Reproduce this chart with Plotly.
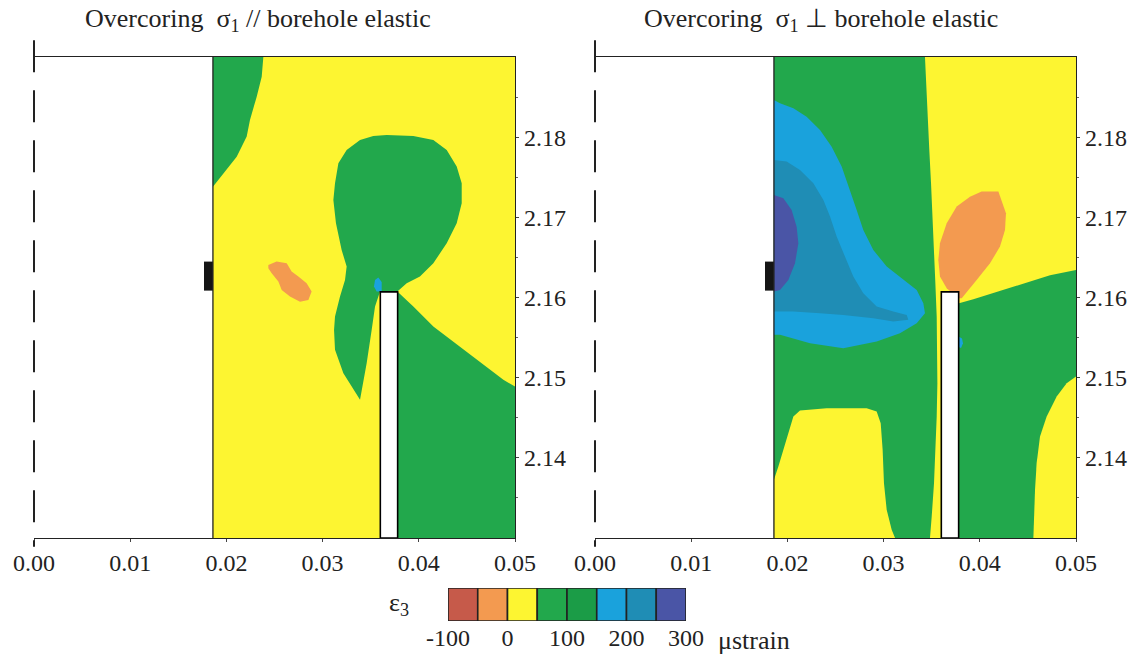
import plotly.graph_objects as go

# ---------------- data ----------------
band_edges = [-100, -50, 0, 50, 100, 150, 200, 250, 300]          # microstrain
band_colors = ['#c65a4a', '#f39a50', '#fdf531', '#22a84c', '#1b9c47',
               '#1aa2dc', '#1f8db5', '#4a55a6']
legend_ticks = [-100, 0, 100, 200, 300]
legend_ticktext = ['-100', '0', '100', '200', '300']

x_ticks = [0.00, 0.01, 0.02, 0.03, 0.04, 0.05]
y_ticks = [2.14, 2.15, 2.16, 2.17, 2.18]
y_minor = [2.135, 2.145, 2.155, 2.165, 2.175, 2.185]

borehole_r = 0.0186
x_max = 0.05
y_min, y_max = 2.13, 2.19
slot_x = [0.0360, 0.0378]
slot_top = 2.1607
gauge_x = [0.01767, borehole_r]
gauge_y = [2.16086, 2.16448]

# ---- left panel (sigma1 // borehole): background band = yellow (0..50)
L_base_band = 2
L_green_top_x = [borehole_r, 0.02384, 0.02367, 0.02315, 0.02245, 0.02211, 0.02107, 0.01968, borehole_r]
L_green_top_y = [2.19, 2.19, 2.18755, 2.18505, 2.18214, 2.18007, 2.17757, 2.1755, 2.17383]

L_green_blob_x = [0.03527, 0.03666, 0.03943, 0.04151, 0.04290, 0.04394, 0.04446, 0.04446, 0.04394, 0.04290,
                  0.04151, 0.04012, 0.03874, 0.03777, 0.03597, 0.03545, 0.03510, 0.03458, 0.03389, 0.03216,
                  0.03129, 0.03119, 0.03129, 0.03181, 0.03233, 0.03250, 0.03198, 0.03139, 0.03112, 0.03129,
                  0.03164, 0.03250, 0.03389]
L_green_blob_y = [2.18015, 2.18027, 2.18015, 2.17965, 2.17840, 2.17633, 2.17425, 2.17175, 2.16926, 2.16677,
                  2.16427, 2.16261, 2.16178, 2.16074, 2.16074, 2.15887, 2.15596, 2.15181, 2.14723, 2.15056,
                  2.15347, 2.15596, 2.15762, 2.16011, 2.16219, 2.16386, 2.16593, 2.16926, 2.17217, 2.17425,
                  2.17674, 2.17840, 2.17965]

L_green_low_x = [0.03777, 0.03943, 0.04151, 0.04359, 0.04567, 0.04740, 0.04879, 0.05, 0.05, 0.03777]
L_green_low_y = [2.16074, 2.15887, 2.15638, 2.15451, 2.15263, 2.15097, 2.14973, 2.14889, 2.13, 2.13]

L_orange_x = [0.02436, 0.02522, 0.02627, 0.02678, 0.02748, 0.02834, 0.02886, 0.02852, 0.02765, 0.02661,
              0.02575, 0.02540, 0.02471, 0.02436]
L_orange_y = [2.16406, 2.16448, 2.16427, 2.16323, 2.16261, 2.16178, 2.16074, 2.15970, 2.15948, 2.16011,
              2.16094, 2.16199, 2.16302, 2.16365]

L_blue_x = [0.03534, 0.03545, 0.03579, 0.03614, 0.03614, 0.03562]
L_blue_y = [2.16136, 2.16219, 2.16250, 2.16194, 2.16074, 2.16074]

# ---- right panel (sigma1 perpendicular to borehole): background band = green
R_base_band = 3
R_yellow_top_x = [0.03430, 0.03441, 0.03458, 0.03475, 0.03493, 0.03510, 0.03524, 0.03538, 0.03552, 0.03559,
                  0.03559, 0.03552, 0.03541, 0.03524, 0.03500, 0.03482, 0.03597, 0.03597, 0.03784, 0.03784,
                  0.03933, 0.04141, 0.04349, 0.04557, 0.04730, 0.04903, 0.05, 0.05]
R_yellow_top_y = [2.19, 2.18672, 2.18256, 2.17840, 2.17425, 2.17009, 2.16593, 2.16178, 2.15762, 2.15347,
                  2.14931, 2.14515, 2.14100, 2.13684, 2.13268, 2.13, 2.13, 2.16074, 2.16074, 2.15928,
                  2.15978, 2.16053, 2.16128, 2.16211, 2.16278, 2.16323, 2.16344, 2.19]

R_orange_x = [0.04019, 0.04193, 0.04272, 0.04262, 0.04210, 0.04106, 0.03967, 0.03864, 0.03812, 0.03777,
              0.03656, 0.03586, 0.03569, 0.03586, 0.03656, 0.03760, 0.03898]
R_orange_y = [2.17321, 2.17321, 2.17050, 2.16843, 2.16635, 2.16427, 2.16219, 2.16074, 2.15990, 2.15990,
              2.16116, 2.16261, 2.16469, 2.16677, 2.16926, 2.17134, 2.17258]

R_blue_x = [borehole_r, 0.01923, 0.02062, 0.02200, 0.02339, 0.02460, 0.02564, 0.02651, 0.02720, 0.02789,
            0.02893, 0.03032, 0.03205, 0.03344, 0.03413, 0.03430, 0.03344, 0.03170, 0.02928, 0.02581,
            0.02235, 0.01923, borehole_r]
R_blue_y = [2.18464, 2.18422, 2.18360, 2.18256, 2.18090, 2.17882, 2.17633, 2.17342, 2.17092, 2.16843,
            2.16593, 2.16386, 2.16219, 2.16094, 2.15928, 2.15804, 2.15679, 2.15555, 2.15451, 2.15367,
            2.15430, 2.15534, 2.15534]

R_teal_x = [borehole_r, 0.01992, 0.02131, 0.02270, 0.02374, 0.02443, 0.02512, 0.02599, 0.02685, 0.02789,
            0.02928, 0.03101, 0.03240, 0.03257, 0.03101, 0.02893, 0.02581, 0.02339, 0.02062, borehole_r]
R_teal_y = [2.17716, 2.17695, 2.17591, 2.17425, 2.17217, 2.17009, 2.16760, 2.16510, 2.16261, 2.16053,
            2.15887, 2.15825, 2.15783, 2.15721, 2.15700, 2.15741, 2.15783, 2.15804, 2.15825, 2.15825]

R_indigo_x = [borehole_r, 0.01958, 0.02044, 0.02096, 0.02114, 0.02079, 0.02010, 0.01923, borehole_r]
R_indigo_y = [2.17279, 2.17237, 2.17092, 2.16884, 2.16677, 2.16427, 2.16219, 2.16094, 2.16074]

R_yellow_bl_x = [borehole_r, borehole_r, 0.01906, 0.01958, 0.02010, 0.02062, 0.02131, 0.02408, 0.02824, 0.02928,
                 0.02970, 0.02990, 0.03004, 0.03032, 0.03084, 0.03119]
R_yellow_bl_y = [2.13, 2.13726, 2.13892, 2.14100, 2.14308, 2.14515, 2.14590, 2.14619, 2.14619, 2.14578,
                 2.14432, 2.14100, 2.13684, 2.13352, 2.13102, 2.13]

R_yellow_br_x = [0.05, 0.04903, 0.04799, 0.04695, 0.04626, 0.04591, 0.04574, 0.04563, 0.04557, 0.05]
R_yellow_br_y = [2.15014, 2.14931, 2.14765, 2.14515, 2.14266, 2.13934, 2.13601, 2.13268, 2.13, 2.13]

R_blue_spot_x = [0.03784, 0.03815, 0.03825, 0.03805, 0.03784]
R_blue_spot_y = [2.1551, 2.1549, 2.1543, 2.1537, 2.1538]

left_regions = [(3, L_green_top_x, L_green_top_y), (3, L_green_blob_x, L_green_blob_y),
                (3, L_green_low_x, L_green_low_y), (1, L_orange_x, L_orange_y), (5, L_blue_x, L_blue_y)]
right_regions = [(2, R_yellow_top_x, R_yellow_top_y), (1, R_orange_x, R_orange_y),
                 (5, R_blue_x, R_blue_y), (6, R_teal_x, R_teal_y), (7, R_indigo_x, R_indigo_y),
                 (2, R_yellow_bl_x, R_yellow_bl_y), (2, R_yellow_br_x, R_yellow_br_y),
                 (5, R_blue_spot_x, R_blue_spot_y)]

# ---------------- figure ----------------
SERIF = 'Liberation Serif, Times New Roman, serif'
fig = go.Figure()


def poly(xs, ys, color, xa, ya, line_color=None, lw=0):
    fig.add_trace(go.Scatter(
        x=list(xs) + [xs[0]], y=list(ys) + [ys[0]], mode='lines', fill='toself',
        fillcolor=color, line=dict(width=lw, color=line_color or color),
        hoverinfo='skip', showlegend=False, xaxis=xa, yaxis=ya))


for (base, regions, xa, ya) in [(L_base_band, left_regions, 'x', 'y'),
                                (R_base_band, right_regions, 'x2', 'y2')]:
    poly([borehole_r, x_max, x_max, borehole_r], [y_min, y_min, y_max, y_max], band_colors[base], xa, ya)
    for band, xs, ys in regions:
        poly(xs, ys, band_colors[band], xa, ya)
    # overcoring slot
    poly([slot_x[0], slot_x[1], slot_x[1], slot_x[0]], [y_min, y_min, slot_top, slot_top],
         'white', xa, ya, line_color='black', lw=1.6)
    # strain gauge cell
    poly([gauge_x[0], gauge_x[1], gauge_x[1], gauge_x[0]], [gauge_y[0], gauge_y[0], gauge_y[1], gauge_y[1]],
         '#151515', xa, ya)
    # borehole wall
    fig.add_trace(go.Scatter(x=[borehole_r, borehole_r], y=[y_min, y_max], mode='lines',
                             line=dict(color='#222', width=1.3), hoverinfo='skip', showlegend=False,
                             xaxis=xa, yaxis=ya))

# legend bar (colour key)
centers = [(band_edges[i] + band_edges[i + 1]) / 2 for i in range(len(band_colors))]
widths = [band_edges[i + 1] - band_edges[i] for i in range(len(band_colors))]
fig.add_trace(go.Bar(x=centers, y=[1] * len(centers), width=widths, marker=dict(
    color=band_colors, line=dict(color='#222', width=1.6)), hoverinfo='skip',
    showlegend=False, xaxis='x3', yaxis='y3'))

W, H = 1140, 658
ydom = [1 - 538 / H, 1 - 57 / H]
xcommon = dict(range=[0, x_max], tickvals=x_ticks, tickformat='.2f', showgrid=False, zeroline=False,
               showline=True, mirror=True, linecolor='#222', linewidth=1.4, ticks='outside', ticklen=3,
               tickcolor='#444', automargin=False,
               tickfont=dict(family=SERIF, size=24, color='#222'))
ycommon = dict(range=[y_min, y_max], tickvals=y_ticks, tickformat='.2f', side='right', showgrid=False,
               zeroline=False, showline=True, linecolor='#222', linewidth=1.4, ticks='outside', ticklen=3,
               tickcolor='#444', automargin=False,
               minor=dict(tickvals=y_minor, ticklen=2, tickcolor='#666', ticks='outside'),
               tickfont=dict(family=SERIF, size=24, color='#222'), domain=ydom)

fig.update_layout(
    template='none',
    width=W, height=H, autosize=False,
    margin=dict(l=0, r=0, t=0, b=0, pad=0, autoexpand=False),
    paper_bgcolor='white', plot_bgcolor='white', showlegend=False, hovermode=False,
    font=dict(family=SERIF, color='#222'),
    xaxis=dict(domain=[34 / W, 515 / W], anchor='y', **xcommon),
    yaxis=dict(anchor='x', **ycommon),
    xaxis2=dict(domain=[595 / W, 1076 / W], anchor='y2', **xcommon),
    yaxis2=dict(anchor='x2', **ycommon),
    xaxis3=dict(domain=[448 / W, 686 / W], anchor='y3', range=[band_edges[0], band_edges[-1]],
                tickvals=legend_ticks, ticktext=legend_ticktext, showgrid=False, zeroline=False,
                showline=False, ticks='', automargin=False,
                tickfont=dict(family=SERIF, size=24, color='#222')),
    yaxis3=dict(domain=[1 - 621 / H, 1 - 588 / H], anchor='x3', range=[0, 1], visible=False,
                automargin=False),
)

# dashed borehole axis lines (left edge of each panel)
for xr, yr in [('x domain', 'y domain'), ('x2 domain', 'y2 domain')]:
    fig.add_shape(type='line', xref=xr, yref=yr, x0=0, x1=0, y0=1.035, y1=-0.018,
                  line=dict(color='#222', width=2, dash='32px,18px'))

title_font = dict(family=SERIF, size=26, color='#222')
fig.add_annotation(text='Overcoring&nbsp;&nbsp;σ<sub>1</sub> // borehole elastic', xref='paper', yref='paper',
                   x=258 / W, y=1 - 20 / H, xanchor='center', yanchor='middle', showarrow=False,
                   font=title_font)
fig.add_annotation(text='Overcoring&nbsp;&nbsp;σ<sub>1</sub> ⊥ borehole elastic', xref='paper', yref='paper',
                   x=821 / W, y=1 - 20 / H, xanchor='center', yanchor='middle', showarrow=False,
                   font=title_font)
fig.add_annotation(text='ε<sub>3</sub>', xref='paper', yref='paper', x=399 / W, y=1 - 604 / H,
                   xanchor='center', yanchor='middle', showarrow=False,
                   font=dict(family=SERIF, size=26, color='#222'))
fig.add_annotation(text='μstrain', xref='x3', yref='paper', x=band_edges[-1], y=1 - 640 / H,
                   xanchor='left', yanchor='middle', xshift=30, showarrow=False,
                   font=dict(family=SERIF, size=26, color='#222'))

fig.write_html('out.html', config={'displayModeBar': False},
               post_script="document.body.style.margin='0';")
